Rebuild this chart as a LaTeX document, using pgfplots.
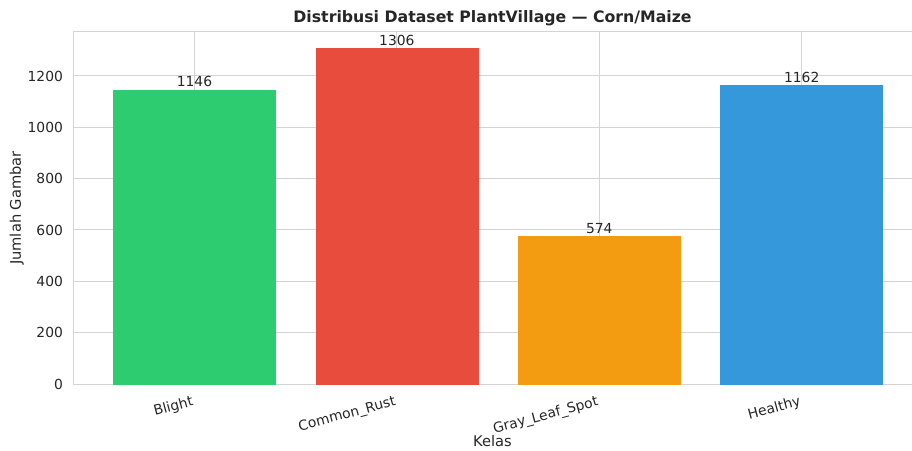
\documentclass[border=0pt]{standalone}
\usepackage{fontspec}
\setmainfont{DejaVu Sans}
\usepackage{pgfplots}
\pgfplotsset{compat=1.18}
\definecolor{cgreen}{HTML}{2ECC71}
\definecolor{cred}{HTML}{E74C3C}
\definecolor{corange}{HTML}{F39C12}
\definecolor{cblue}{HTML}{3498DB}
\definecolor{txt}{HTML}{262626}
\definecolor{gridc}{HTML}{D4D4D4}
\begin{document}
\begin{tikzpicture}
\useasboundingbox (0pt,0pt) rectangle (684pt,337.5pt);
\begin{axis}[
  at={(54.75pt,49.5pt)}, anchor=south west,
  scale only axis, width=629.25pt, height=264pt,
  xmin=-0.6, xmax=3.545, ymin=0, ymax=1371.3,
  axis x line=box, axis y line*=left,
  axis line style={draw=gridc, line width=0.75pt},
  ybar, bar width=0.8, bar shift=0pt,
  xtick={0,1,2,3},
  xticklabels={Blight,Common\_Rust,Gray\_Leaf\_Spot,Healthy},
  ytick={0,200,400,600,800,1000,1200},
  major tick length=0pt,
  grid=major, major grid style={draw=gridc, line width=0.75pt},
  tick label style={font=\fontsize{10.4}{12}\selectfont, text=txt},
  xticklabel style={rotate=15, anchor=north east, yshift=-4pt, xshift=-1pt},
  yticklabel style={xshift=-4pt},
  /pgf/number format/assume math mode=true,
  /pgf/number format/1000 sep={},
  title={\textbf{Distribusi Dataset PlantVillage — Corn/Maize}},
  title style={font=\fontsize{11.8}{13}\selectfont, text=txt, yshift=-5pt},
  xlabel={Kelas}, ylabel={Jumlah Gambar},
  label style={font=\fontsize{11}{13}\selectfont, text=txt},
  xlabel style={yshift=8.5pt},
  ylabel style={yshift=-4pt},
  nodes near coords,
  nodes near coords style={font=\fontsize{10.4}{12}\selectfont, text=txt, anchor=south, yshift=-1pt},
]
\addplot[fill=cgreen, draw=cgreen] coordinates {(0,1146)};
\addplot[fill=cred, draw=cred] coordinates {(1,1306)};
\addplot[fill=corange, draw=corange] coordinates {(2,574)};
\addplot[fill=cblue, draw=cblue] coordinates {(3,1162)};
\end{axis}
\end{tikzpicture}
\end{document}
